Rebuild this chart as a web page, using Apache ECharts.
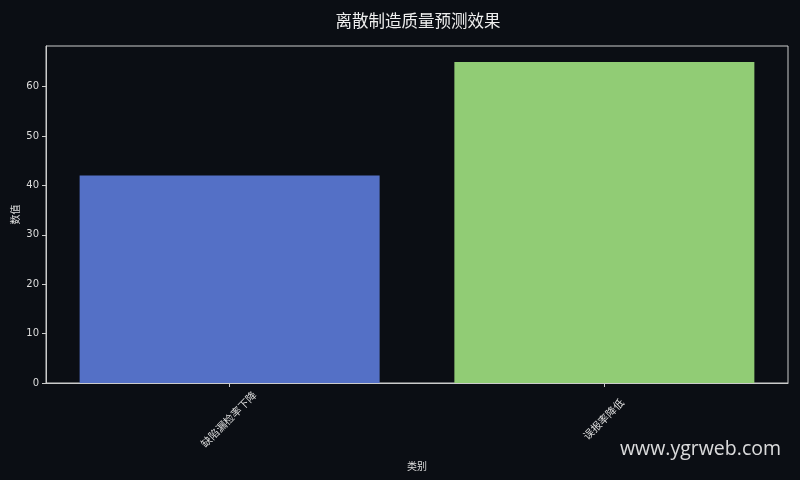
<!DOCTYPE html>
<html>
<head>
<meta charset="utf-8">
<script src="https://cdn.jsdelivr.net/npm/echarts@6/dist/echarts.min.js"></script>
<style>
    html, body { margin: 0; padding: 0; background: #0b0e14; }
    #main { width: 800px; height: 480px; }
</style>
</head>
<body>
<div id="main"></div>
<script>
    // 数据
    var categories = ['缺陷漏检率下降', '误报率降低']
    var values = [42, 65]
    var barColors = ['#5470c6', '#91cc75']
    var yTicks = [0, 10, 20, 30, 40, 50, 60]

    var myChart = echarts.init(document.getElementById('main'))

    // 类别位置 0,1,... 用数值轴画，好和原图的边距对齐
    var positions = categories.map(function (c, i) { return i })

    var option = {
        backgroundColor: '#0b0e14',
        textStyle: { fontFamily: '"DejaVu Sans", "Noto Sans CJK SC", sans-serif' },
        title: {
            text: '离散制造质量预测效果',
            left: 413,
            top: 7,
            textAlign: 'center',
            textStyle: {
                color: '#eeeeee', fontSize: 16.5, fontWeight: 'normal',
                fontFamily: '"Noto Sans CJK SC", sans-serif'
            }
        },
        grid: {
            left: 46, right: 12, top: 46, bottom: 97,
            outerBoundsMode: 'none',
            containLabel: false,
            show: true, borderColor: '#cccccc', borderWidth: 1
        },
        xAxis: {
            type: 'value',
            min: -0.49,
            max: categories.length - 1 + 0.49,
            name: '类别',
            nameLocation: 'middle',
            nameGap: 79,
            nameMoveOverlap: false,
            nameTextStyle: { color: '#dddddd', fontSize: 10 },
            splitLine: { show: false },
            axisLine: { show: true, onZero: false, lineStyle: { color: '#cccccc' } },
            axisTick: { show: true, length: 4, customValues: positions, lineStyle: { color: '#cccccc' } },
            axisLabel: {
                customValues: positions,
                rotate: 45,
                align: 'center',
                verticalAlign: 'middle',
                margin: 37,
                color: '#dddddd',
                fontSize: 10.5,
                formatter: function (v) {
                    return categories[Math.round(v)] || ''
                }
            }
        },
        yAxis: {
            type: 'value',
            min: 0,
            max: 68.25,
            name: '数值',
            nameLocation: 'middle',
            nameGap: 25,
            nameMoveOverlap: false,
            nameTextStyle: { color: '#dddddd', fontSize: 10 },
            axisLine: { show: true, onZero: false, lineStyle: { color: '#cccccc' } },
            axisTick: { show: true, length: 4, customValues: yTicks, lineStyle: { color: '#cccccc' } },
            splitLine: { show: false },
            axisLabel: {
                customValues: yTicks,
                color: '#dddddd',
                fontSize: 10,
                margin: 7
            }
        },
        series: [
            {
                type: 'bar',
                barWidth: 300,
                data: values.map(function (v, i) {
                    return { value: [positions[i], v], itemStyle: { color: barColors[i] } }
                })
            }
        ],
        graphic: [
            {
                type: 'text',
                right: 19,
                top: 439,
                style: {
                    text: 'www.ygrweb.com',
                    fill: 'rgba(255,255,255,0.85)',
                    fontSize: 19.5,
                    fontFamily: '"Open Sans", "DejaVu Sans", sans-serif'
                }
            }
        ]
    }

    myChart.setOption(option)
</script>
</body>
</html>
